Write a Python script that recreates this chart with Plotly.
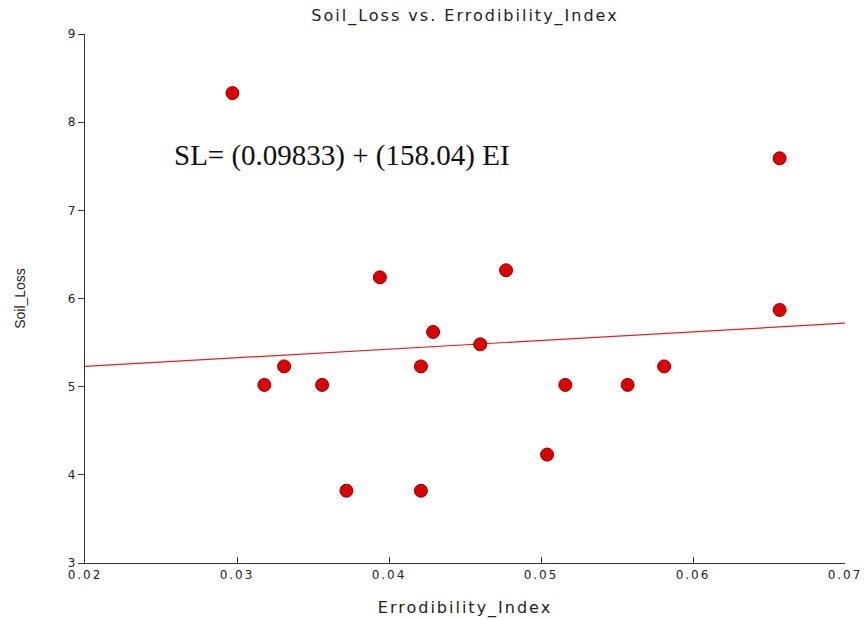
import plotly.graph_objects as go

# Data
erodibility_index = [0.0297, 0.0318, 0.0331, 0.0356, 0.0372, 0.0394, 0.0421, 0.0421,
                     0.0429, 0.0460, 0.0477, 0.0504, 0.0516, 0.0557, 0.0581, 0.0657, 0.0657]
soil_loss = [8.33, 5.02, 5.23, 5.02, 3.82, 6.24, 5.23, 3.82,
             5.62, 5.48, 6.32, 4.23, 5.02, 5.02, 5.23, 7.59, 5.87]
fit_x = [0.02, 0.07]
fit_y = [5.23, 5.72]

x_ticks = [0.02, 0.03, 0.04, 0.05, 0.06, 0.07]
y_ticks = [3, 4, 5, 6, 7, 8, 9]

W, H = 865, 620


def spaced(text, px):
    return f"<span style='letter-spacing:{px}px'>{text}</span>"


fig = go.Figure()
fig.add_trace(go.Scatter(x=fit_x, y=fit_y, mode="lines",
                         line=dict(color="#e0202a", width=1.2), showlegend=False))
fig.add_trace(go.Scatter(x=erodibility_index, y=soil_loss, mode="markers",
                         marker=dict(color="#dd0000", size=13,
                                     line=dict(color="#8b0000", width=1)),
                         showlegend=False))

fig.add_annotation(x=0.0257, y=7.62, xref="x", yref="y", xanchor="left", yanchor="middle",
                   text="SL= (0.09833) + (158.04) EI", showarrow=False,
                   font=dict(family="Liberation Serif", size=29, color="#111111"))

fig.update_layout(
    width=W, height=H,
    margin=dict(l=85, r=20, t=34, b=57, autoexpand=False),
    paper_bgcolor="white", plot_bgcolor="white",
    title=dict(text=spaced("Soil_Loss vs. Errodibility_Index", 2), x=0.5, xanchor="center",
               xref="paper", yref="container", y=1 - 15 / H, yanchor="middle",
               font=dict(family="DejaVu Sans", size=16, color="#222222")),
    font=dict(family="DejaVu Sans", color="#222222"),
)
fig.update_xaxes(range=[0.02, 0.07], tickvals=x_ticks,
                 ticktext=[spaced(f"{v:.2f}", 2) for v in x_ticks],
                 automargin=False, ticklabeloverflow="allow",
                 showgrid=False, zeroline=False, showline=True, linecolor="#333333", linewidth=1.2,
                 ticks="inside", ticklen=6, tickcolor="#333333",
                 tickfont=dict(size=12),
                 title=dict(text=spaced("Errodibility_Index", 2), font=dict(size=16), standoff=21))
fig.update_yaxes(range=[3, 9], tickvals=y_ticks, showgrid=False, zeroline=False,
                 automargin=False,
                 showline=True, linecolor="#333333", linewidth=1.2,
                 ticks="outside", ticklen=6, tickcolor="#333333",
                 tickfont=dict(size=12),
                 title=dict(text="Soil_Loss", font=dict(family="Liberation Sans", size=14),
                            standoff=38))

fig.write_html("out.html", config={"displayModeBar": False},
               post_script="document.body.style.margin='0';document.body.style.overflow='hidden';")
